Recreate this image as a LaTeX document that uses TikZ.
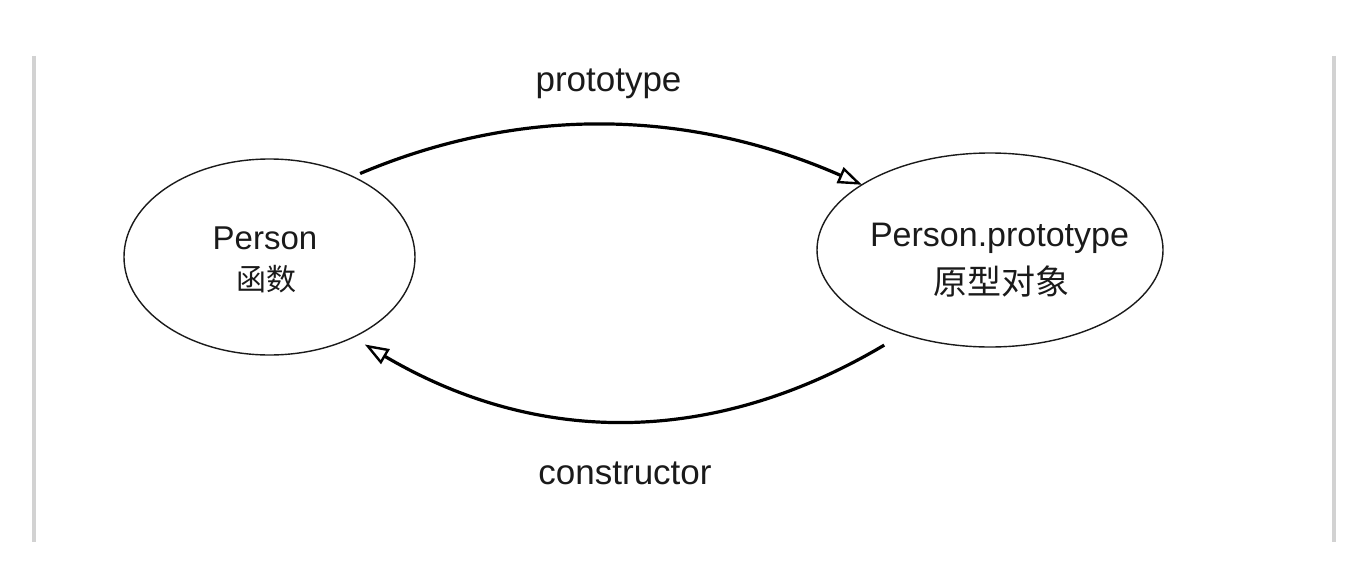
\documentclass[tikz,border=0pt]{standalone}
\usepackage{fontspec}
\setmainfont{Liberation Sans}
\newfontfamily\cjkfont{Noto Sans CJK SC}
\usetikzlibrary{shapes.geometric,arrows.meta}
\definecolor{rule}{HTML}{D2D2D2}
\definecolor{ink}{HTML}{1A1A1A}
\begin{document}
\begin{tikzpicture}[x=1pt,y=-1pt,
  bubble/.style={ellipse, draw=ink, line width=1.4pt, inner sep=0pt, outer sep=0pt},
  link/.style={line width=3.2pt, draw=black,
    -{Triangle[open,length=24pt,width=17pt,line width=2.4pt]}},
  lbl/.style={anchor=base, inner sep=0pt, text=ink},
  sidebar/.style={draw=rule, line width=4pt}]
\useasboundingbox (0,0) rectangle (1372,586);

% side rules
\coordinate (lt) at (34,56);
\coordinate (lb) at (34,542);
\coordinate (rt) at (1334,56);
\coordinate (rb) at (1334,542);
\draw[sidebar] (lt) -- (lb);
\draw[sidebar] (rt) -- (rb);

% the two objects
\node[bubble, minimum width=291pt, minimum height=196pt] (fn) at (269.5,257) {};
\node[bubble, minimum width=346pt, minimum height=194pt] (proto) at (990,250) {};

\node[lbl, font=\fontsize{33}{40}\selectfont] (fnname) at (265,249) {Person};
\node[lbl, font=\fontsize{30}{36}\selectfont\cjkfont] (fnkind) at (266.5,290) {函数};
\node[lbl, font=\fontsize{34}{40}\selectfont] (protoname) at (999.5,246) {Person.prototype};
\node[lbl, font=\fontsize{34}{40}\selectfont\cjkfont] (protokind) at (1001,294) {原型对象};

% links between them
\draw[link, shorten <=8pt] (fn.44) .. controls (522.9,104.7) and (690.7,109.5) .. (proto.153.4);
\draw[link, shorten <=22pt, shorten >=14pt] (proto.224.4) .. controls (712.7,446.9) and (537.2,446) .. (fn.-44.5);

\node[lbl, font=\fontsize{35}{40}\selectfont] (toplbl) at (608.5,92) {prototype};
\node[lbl, font=\fontsize{35}{40}\selectfont] (botlbl) at (625,484) {constructor};
\end{tikzpicture}
\end{document}
